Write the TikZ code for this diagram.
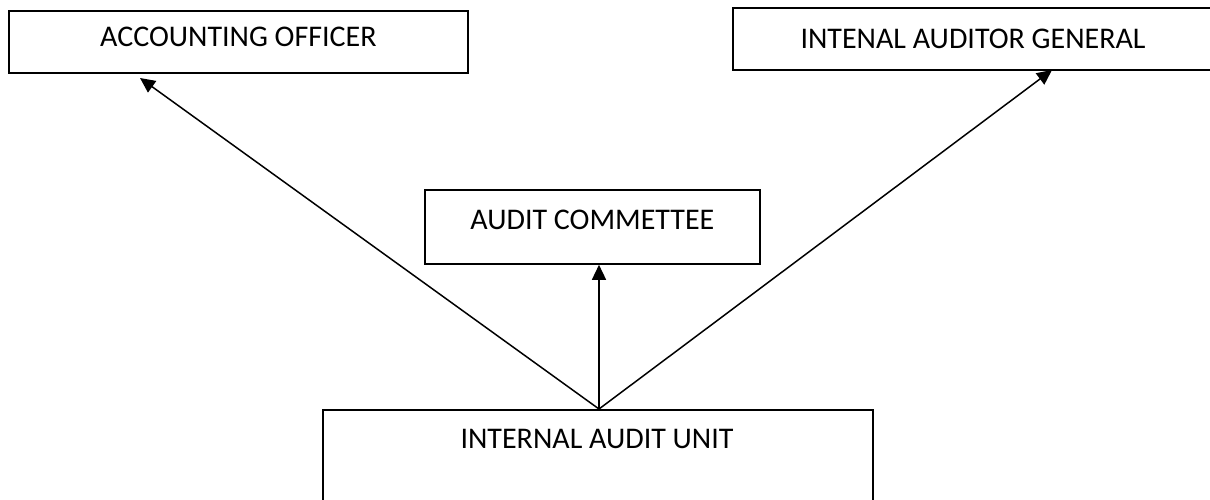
\documentclass[tikz,border=0pt]{standalone}
\usepackage{fontspec}
\setmainfont{Carlito}
\usetikzlibrary{arrows.meta,calc}
\begin{document}
\begin{tikzpicture}[x=1pt,y=-1pt,
  box/.style={draw=black, line width=1.8pt, rectangle, inner sep=0pt, anchor=north west},
  lbl/.style={font=\fontsize{30}{36}\selectfont, inner sep=0pt, anchor=center},
  conn/.style={line width=1.5pt, -{Triangle[length=15pt,width=14pt]}}]
\useasboundingbox (0,0) rectangle (1210,500);
\node[box, minimum width=459pt, minimum height=62pt] (ao) at (8,10) {};
\node[box, minimum width=482pt, minimum height=62pt] (iag) at (732,7) {};
\node[box, minimum width=335pt, minimum height=74pt] (ac) at (424,189) {};
\node[box, minimum width=550pt, minimum height=120pt] (iau) at (322,409) {};
\node[lbl] (aot) at ($(ao.north)+(0,27)$) {ACCOUNTING OFFICER};
\node[lbl] (iagt) at (973,39) {INTENAL AUDITOR GENERAL};
\node[lbl] (act) at ($(ac.north)+(0,31)$) {AUDIT COMMETTEE};
\node[lbl] (iaut) at (597,439) {INTERNAL AUDIT UNIT};
\coordinate (src) at (599,409);
\coordinate (aoend) at (140,78);
\coordinate (iagend) at (1052,70);
\draw[conn] (src) -- (aoend);
\draw[conn] (src) -- (src |- ac.south);
\draw[conn] (src) -- (iagend);
\end{tikzpicture}
\end{document}
